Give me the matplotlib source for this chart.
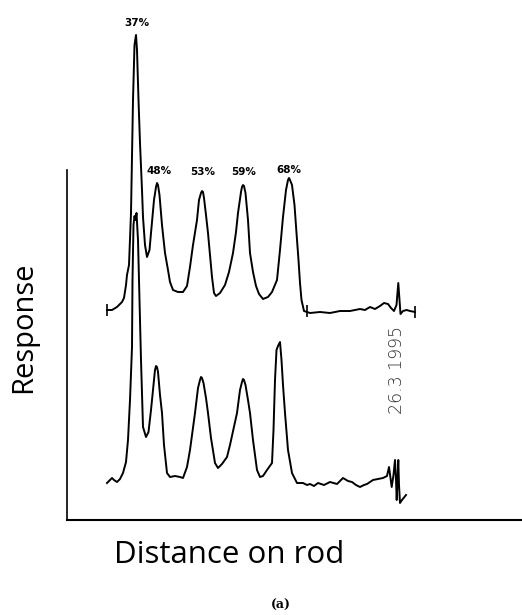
import matplotlib
matplotlib.use("Agg")
import matplotlib.pyplot as plt

# upper trace, (distance, response)
top_pts = [(40, 210), (45, 210), (50, 213), (55, 218), (57, 222), (59, 235), (60, 245),
           (62, 255), (64, 307), (66, 420), (67.5, 475), (69, 485), (70, 470), (71.5, 420),
           (73, 377), (75, 330), (76, 303), (78, 275), (80, 263), (82.5, 270), (84, 287),
           (87, 320), (89, 333), (90, 337), (91, 335), (92.5, 325), (95, 295), (98, 267),
           (101, 250), (103, 238), (106, 230), (111, 228), (116, 228), (120, 234), (123, 253),
           (126, 275), (130, 300), (132, 320), (134, 327), (135, 329), (136, 328), (137, 322),
           (139, 305), (141, 287), (143, 265), (145, 243), (147, 227), (149, 224), (153, 227),
           (158, 235), (162, 248), (166, 267), (169, 288), (171, 307), (174, 328), (175, 333),
           (176, 335), (177, 334), (178.5, 327), (181, 300), (183, 267), (186, 248), (189, 234),
           (192, 226), (196, 221), (201, 223), (205, 228), (210, 240), (213, 270), (216, 303),
           (219, 330), (221, 340), (222, 342), (223, 340), (225, 335), (227.5, 315),
           (229.5, 287), (231.5, 260), (233, 237), (234.5, 220), (237, 209), (243, 207),
           (253, 208), (263, 207), (273, 209), (283, 209), (293, 211), (298, 210), (303, 213),
           (308, 211), (313, 214), (317, 217), (321, 216), (324, 212), (327, 209),
           (329.5, 215), (331.3, 237), (332.5, 220), (333.5, 206), (336, 209), (339.7, 210),
           (343, 209), (348, 208)]

# lower trace
bot_pts = [(40, 37), (42, 39), (45, 42), (47, 40), (50, 38), (53, 41), (56, 47), (59, 58),
           (61, 80), (63, 120), (65, 173), (65.5, 240), (66.5, 295), (67.5, 304), (68.5, 300),
           (69.5, 307), (71, 280), (72.5, 220), (74, 160), (76, 93), (79, 83), (81.5, 88),
           (84, 110), (87, 140), (88, 150), (89, 154), (90, 153), (91, 148), (93, 125),
           (95, 107), (97, 75), (100, 47), (103, 43), (108, 44), (113, 43), (116, 42),
           (120, 53), (123, 70), (128, 107), (131, 132), (133, 140), (134, 143), (135, 142),
           (136.5, 137), (139, 122), (141, 107), (144, 82), (148, 57), (151, 52), (155, 56),
           (160, 63), (163, 75), (170, 107), (173, 130), (175, 138), (176, 141), (177, 140),
           (178.5, 135), (181, 120), (183, 107), (186, 80), (190, 50), (193, 43), (196, 44),
           (200, 50), (205, 57), (206.5, 90), (208, 140), (209.5, 170), (211, 174), (213, 178),
           (214.5, 160), (216, 135), (218, 107), (221, 70), (225, 47), (230, 37), (236, 37),
           (240, 35), (243, 36), (247, 34), (251, 37), (257, 35), (263, 38), (270, 36),
           (276, 42), (281, 39), (285, 38), (289, 35), (293, 33), (297, 35), (300, 36),
           (306, 40), (311, 41), (316, 42), (320, 44), (322, 53), (323.5, 42), (324.7, 33),
           (326.5, 45), (328, 60), (329, 40), (329.7, 20), (330.5, 40), (331.3, 60), (332, 35),
           (333, 17), (335, 20), (339, 25)]

top_d, top_r = zip(*top_pts)
bot_d, bot_r = zip(*bot_pts)

# percent labels above the upper trace peaks
labels = ["37%", "48%", "53%", "59%", "68%"]
label_d = [69.7, 92, 135.7, 176.3, 222]
label_r = [497, 349, 348, 348, 350]

# small pen marks on the upper trace
mark_d = [40, 240, 348]
mark_r = [210, 209, 208]

fig = plt.figure(figsize=(5.22, 6.15), dpi=100)
ax = fig.add_axes([67 / 522, 95 / 615, 455 / 522, 520 / 615])
ax.set_xlim(0, 455)
ax.set_ylim(0, 520)

ax.plot(top_d, top_r, color='black', lw=1.4)
ax.plot(bot_d, bot_r, color='black', lw=1.4)
ax.plot(mark_d, mark_r, linestyle='none', marker='|', markersize=8, color='black', mew=1.2)

for t, x, y in zip(labels, label_d, label_r):
    ax.text(x, y, t, ha='center', va='center', fontsize=7.5, fontweight='bold',
            family='DejaVu Sans')

ax.text(330, 150, "26.3 1995", rotation=90, ha='center', va='center', fontsize=12.5,
        color='#333333', family='DejaVu Sans', fontweight='light')

for s in ['top', 'right']:
    ax.spines[s].set_visible(False)
ax.spines['left'].set_bounds(0, 350)
ax.spines['left'].set_linewidth(1.2)
ax.spines['bottom'].set_linewidth(1.5)
ax.set_xticks([])
ax.set_yticks([])

fig.text(24 / 522, 1 - 327 / 615, "Response", rotation=90, ha='center', va='center',
         fontsize=21, family='Open Sans')
fig.text(229 / 522, 1 - 555 / 615, "Distance on rod", ha='center', va='center',
         fontsize=22.5, family='Open Sans')
fig.text(281 / 522, 1 - 605 / 615, "(a)", ha='center', va='center', fontsize=9,
         fontweight='bold', family='DejaVu Serif')

fig.savefig("out.png", dpi=100)
